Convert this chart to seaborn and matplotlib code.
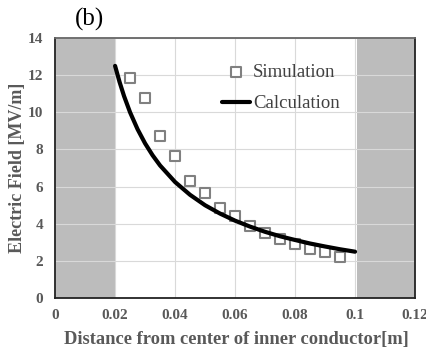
import numpy as np
import pandas as pd
import matplotlib
matplotlib.use("Agg")
import matplotlib.pyplot as plt
import seaborn as sns

# Simulated field values
sim_r = [0.025, 0.030, 0.035, 0.040, 0.045, 0.050, 0.055, 0.060,
         0.065, 0.070, 0.075, 0.080, 0.085, 0.090, 0.095]
sim_e = [11.85, 10.75, 8.72, 7.65, 6.32, 5.67, 4.86, 4.43,
         3.89, 3.53, 3.19, 2.94, 2.64, 2.46, 2.22]

# Calculated field values
calc_r = [0.0200, 0.0215, 0.0230, 0.0250, 0.0275, 0.0300, 0.0325, 0.0350,
          0.0400, 0.0450, 0.0500, 0.0550, 0.0600, 0.0650, 0.0700, 0.0750,
          0.0800, 0.0850, 0.0900, 0.0950, 0.1000]
calc_e = [12.50, 11.63, 10.87, 10.00, 9.09, 8.33, 7.69, 7.14,
          6.25, 5.56, 5.00, 4.55, 4.17, 3.85, 3.57, 3.33,
          3.13, 2.94, 2.78, 2.63, 2.50]

x_ticks = [0, 0.02, 0.04, 0.06, 0.08, 0.1, 0.12]
x_tick_labels = ["0", "0.02", "0.04", "0.06", "0.08", "0.1", "0.12"]
y_ticks = [0, 2, 4, 6, 8, 10, 12, 14]

sns.set_style("white")
plt.rcParams["font.family"] = ["Liberation Serif", "DejaVu Serif"]

sim_df = pd.DataFrame({"r": sim_r, "E": sim_e})
calc_df = pd.DataFrame({"r": calc_r, "E": calc_e})

fig = plt.figure(figsize=(4.27, 3.52), dpi=100)
ax = fig.add_axes([0.129, 0.153, 0.843, 0.739])

grey_txt = "#595959"

# conductor regions
ax.axvspan(0, 0.02, color="#bcbcbc", zorder=0, lw=0)
ax.axvspan(0.1005, 0.12, color="#bcbcbc", zorder=0, lw=0)

ax.set_xlim(0, 0.12)
ax.set_ylim(0, 14)
ax.set_xticks(x_ticks)
ax.set_xticklabels(x_tick_labels)
ax.set_yticks(y_ticks)
ax.grid(True, color="#d9d9d9", lw=0.8, zorder=0.5)
ax.set_axisbelow(True)

sns.scatterplot(data=sim_df, x="r", y="E", ax=ax, marker="s", s=50,
                facecolor="white", edgecolor="#808080", linewidth=1.5,
                label="Simulation", zorder=3)
sns.lineplot(data=calc_df, x="r", y="E", ax=ax, color="black", lw=3,
             label="Calculation", zorder=4)

ax.tick_params(axis="both", length=0, labelsize=11, labelcolor=grey_txt)
ax.tick_params(axis="x", pad=8)
ax.tick_params(axis="y", pad=8.5)
for lab in ax.get_xticklabels() + ax.get_yticklabels():
    lab.set_fontweight("bold")

ax.set_xlabel("Distance from center of inner conductor[m]", fontsize=13.3,
              fontweight="bold", color=grey_txt)
ax.set_ylabel("Electric Field [MV/m]", fontsize=13, fontweight="bold",
              color=grey_txt)
ax.xaxis.set_label_coords(0.505, -0.128)
ax.yaxis.set_label_coords(-0.08, 0.5)

for side in ["left", "bottom", "right"]:
    ax.spines[side].set_color("#222222")
    ax.spines[side].set_linewidth(1.3)
ax.spines["top"].set_color("#666666")
ax.spines["top"].set_linewidth(1.3)

leg = ax.legend(loc="upper left", bbox_to_anchor=(0.416, 0.965), frameon=False,
                fontsize=13.5, handlelength=1.5, handletextpad=0.16,
                labelspacing=0.76)
for t in leg.get_texts():
    t.set_color("#404040")

fig.text(0.176, 0.977, "(b)", fontsize=18, color="black", ha="left", va="top")

fig.savefig("out.png", dpi=100)
